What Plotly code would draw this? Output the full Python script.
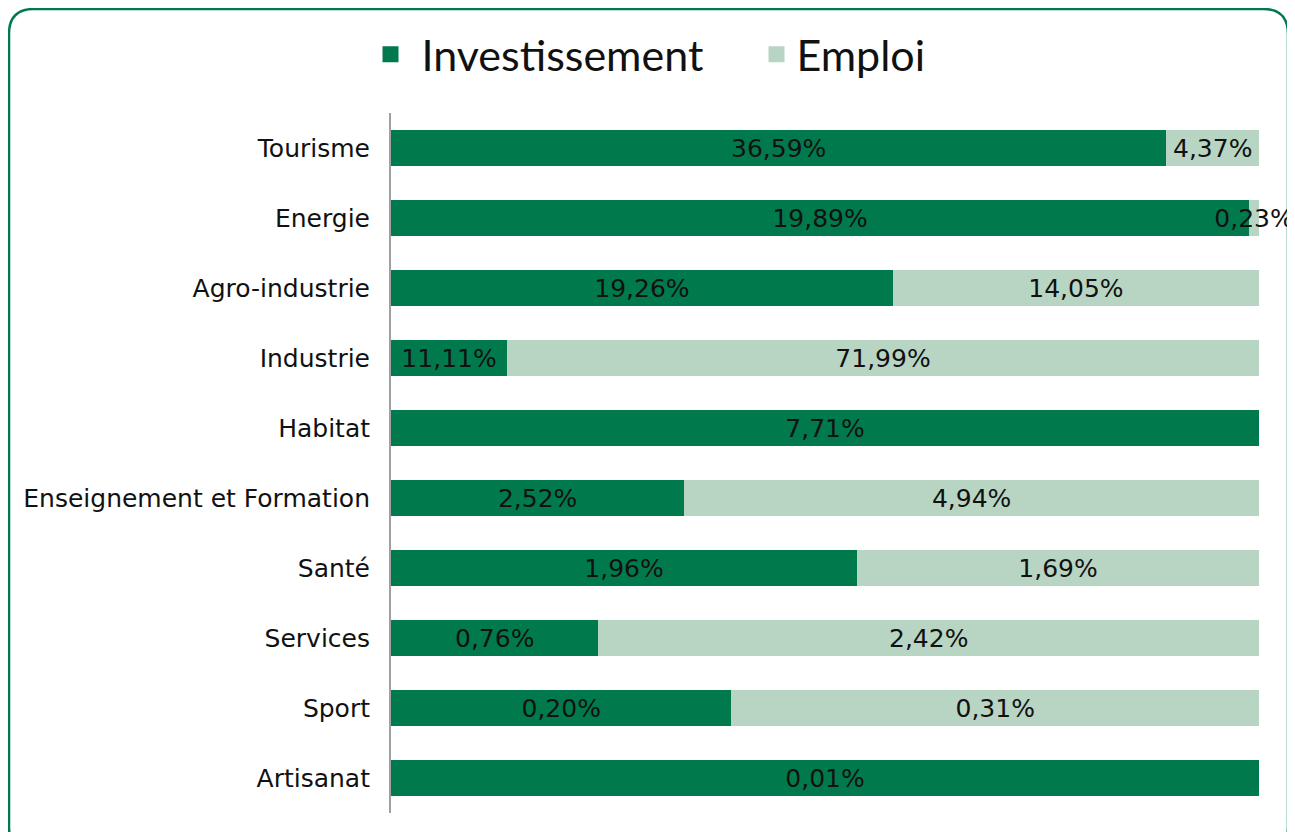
import plotly.graph_objects as go

# ─── Données ───────────────────────────────────────────────────────────────────
secteurs = [
    "Tourisme", "Energie", "Agro-industrie", "Industrie", "Habitat",
    "Enseignement et Formation", "Santé", "Services", "Sport", "Artisanat",
]
investissement = [36.59, 19.89, 19.26, 11.11, 7.71, 2.52, 1.96, 0.76, 0.20, 0.01]
emploi = [4.37, 0.23, 14.05, 71.99, 0, 4.94, 1.69, 2.42, 0.31, 0]

VERT = "#007A4D"
VERT_CLAIR = "#B8D5C3"
FONT = "DejaVu Sans"

# la page décale la figure de 8 px (marge du body) : coordonnées en px figure
W, H = 1295, 832
M = dict(l=383, r=44, t=105, b=27)


def fmt(v):
    return (f"{v:.2f}".replace(".", ",") + "%") if v else ""


def px_to_paper(x, y):
    pw = W - M["l"] - M["r"]
    ph = H - M["t"] - M["b"]
    return (x - M["l"]) / pw, (H - M["b"] - y) / ph


def cadre_arrondi(x0, y0, x1, y1, r):
    # rectangle à coins arrondis, en coordonnées paper
    P = lambda x, y: "%.5f,%.5f" % px_to_paper(x, y)
    return (
        f"M{P(x0 + r, y0)} L{P(x1 - r, y0)} Q{P(x1, y0)} {P(x1, y0 + r)} "
        f"L{P(x1, y1 - r)} Q{P(x1, y1)} {P(x1 - r, y1)} "
        f"L{P(x0 + r, y1)} Q{P(x0, y1)} {P(x0, y1 - r)} "
        f"L{P(x0, y0 + r)} Q{P(x0, y0)} {P(x0 + r, y0)} Z"
    )


police_barres = dict(family=FONT, size=25, color="#111111")

fig = go.Figure()

fig.add_trace(go.Bar(
    y=secteurs, x=investissement, orientation="h", name="Investissement",
    marker=dict(color=VERT, line=dict(width=0)),
    text=[fmt(v) for v in investissement],
    textposition="inside", insidetextanchor="middle", textangle=0,
    constraintext="none", cliponaxis=False,
    textfont=police_barres, insidetextfont=police_barres,
    showlegend=False,
))
fig.add_trace(go.Bar(
    y=secteurs, x=emploi, orientation="h", name="Emploi",
    marker=dict(color=VERT_CLAIR, line=dict(width=0)),
    showlegend=False,
))

# étiquettes "Emploi" au centre de chaque segment (en % de la barre)
totaux = [i + e for i, e in zip(investissement, emploi)]
centres_emploi = [100 * (i + e / 2) / t for i, e, t in zip(investissement, emploi, totaux)]
fig.add_trace(go.Scatter(
    x=[c for c, e in zip(centres_emploi, emploi) if e],
    y=[s for s, e in zip(secteurs, emploi) if e],
    yaxis="y2",
    text=[fmt(e) for e in emploi if e],
    mode="text", textposition="middle center", textfont=police_barres,
    cliponaxis=False, showlegend=False, hoverinfo="skip",
))

# entrées de légende (carrés plus grands)
for nom, couleur in [(" Investissement", VERT), ("Emploi", VERT_CLAIR)]:
    fig.add_trace(go.Scatter(
        x=[None], y=[None], mode="markers", name=nom,
        marker=dict(symbol="square", size=19, color=couleur),
    ))

n = len(secteurs)
decalage = 0.043  # ~3 px : aligne le texte scatter sur le texte des barres

fig.update_layout(
    width=W, height=H,
    margin=M,
    paper_bgcolor="white",
    plot_bgcolor="white",
    barmode="stack",
    barnorm="percent",
    bargap=0.486,
    font=dict(family=FONT, color="#111111"),
    xaxis=dict(visible=False, range=[0, 100], fixedrange=True),
    yaxis=dict(
        categoryorder="array", categoryarray=secteurs, autorange="reversed",
        showline=True, linecolor="#A0A0A0", linewidth=2,
        showgrid=False, ticks="", ticklabelstandoff=14,
        tickfont=dict(family=FONT, size=25, color="#111111"),
    ),
    yaxis2=dict(
        overlaying="y", visible=False,
        categoryorder="array", categoryarray=secteurs,
        range=[n - 0.5 - decalage, -0.5 - decalage],
    ),
    legend=dict(
        orientation="h", traceorder="normal",
        x=-0.0236, xanchor="left", y=1.084, yanchor="middle",
        font=dict(family="Lato", size=43, color="#111111"),
        entrywidth=341,
    ),
    shapes=[dict(
        type="path", xref="paper", yref="paper",
        path=cadre_arrondi(1, 1, 1280, 845, 25),
        line=dict(color=VERT, width=2.5), layer="below",
    )],
)

fig.write_html("out.html")
